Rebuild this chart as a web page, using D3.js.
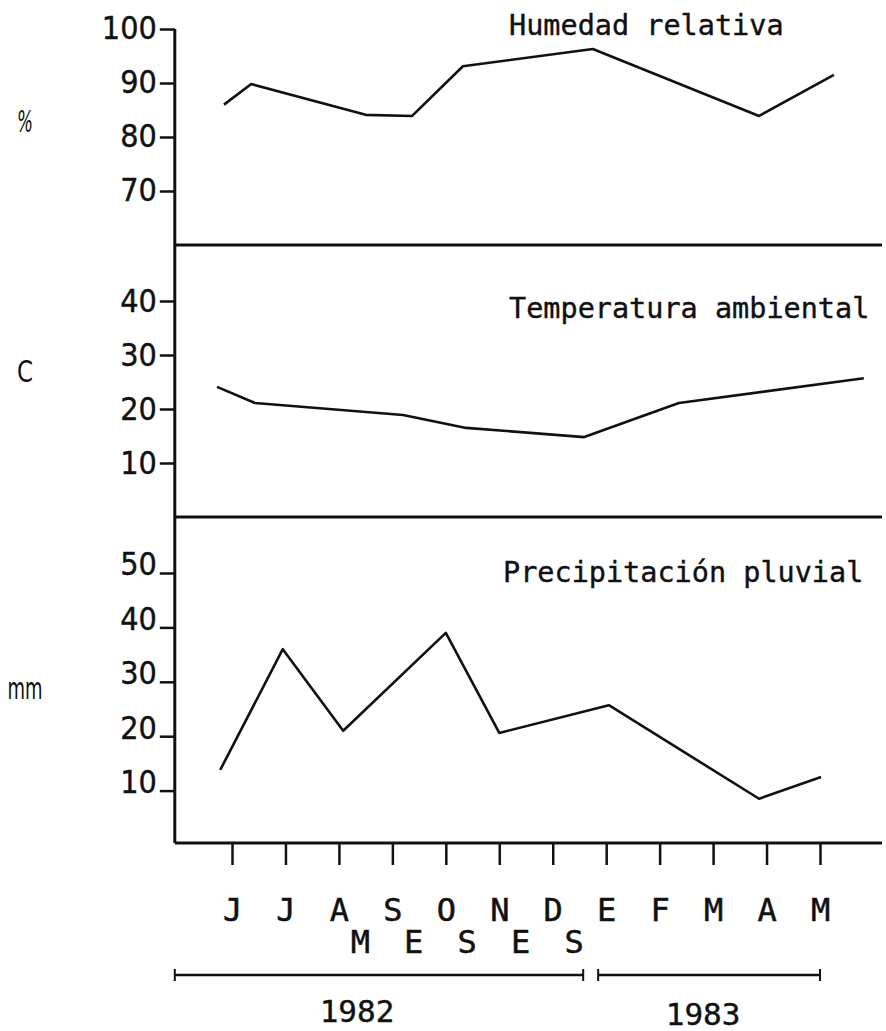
<!DOCTYPE html>
<html>
<head>
<meta charset="utf-8">
<script src="https://cdn.jsdelivr.net/npm/d3@7"></script>
<style>
body { margin: 0; background: #fff; }
.num { font-family: "DejaVu Sans Condensed", "Liberation Sans Narrow", "DejaVu Sans", sans-serif; font-stretch: condensed; }
.mono { font-family: "DejaVu Sans Mono", "Liberation Mono", monospace; }
</style>
</head>
<body>
<svg width="886" height="1031"></svg>
<script>
// months of the sampling period (Jun 1982 - May 1983)
var months = ["J", "J", "A", "S", "O", "N", "D", "E", "F", "M", "A", "M"];

// vertices of each curve: position on the month axis (0 = first J) and value
var humMonth = [-0.15, 0.36, 2.5, 3.37, 4.32, 6.75, 9.86, 11.26];
var humValue = [86, 89.8, 84.1, 83.9, 93.1, 96.3, 83.9, 91.5];

var tempMonth = [-0.28, 0.43, 3.2, 4.38, 6.59, 8.36, 11.82];
var tempValue = [24.1, 21.1, 18.9, 16.5, 14.8, 21.1, 25.7];

var rainMonth = [-0.22, 0.95, 2.08, 4.0, 5.0, 7.05, 9.86, 11.02];
var rainValue = [13.8, 36.0, 21.0, 39.0, 20.6, 25.7, 8.5, 12.5];

var humTicks = [70, 80, 90, 100];
var tempTicks = [10, 20, 30, 40];
var rainTicks = [10, 20, 30, 40, 50];

var years = ["1982", "1983"];
var yearFrom = [-1.07, 6.85];
var yearTo = [6.57, 11];

var svg = d3.select("svg"),
    width = +svg.attr("width"),
    height = +svg.attr("height");

var x = d3.scaleLinear().domain([0, 11]).range([232, 820]);
var axisX = x(-1.07),
    rightX = 882,
    baseY = 843;

var panels = [
    {title: "Humedad relativa", unit: "%", domain: [60, 100], range: [245, 29], base: 245,
     ticks: humTicks, xs: humMonth, ys: humValue, dy: "0.3em", titleX: 509, titleY: 35, unitY: 132, unitW: 16, italic: true},
    {title: "Temperatura ambiental", unit: "C", domain: [0, 50], range: [517, 247], base: 517,
     ticks: tempTicks, xs: tempMonth, ys: tempValue, dy: "0.32em", titleX: 509, titleY: 318, unitY: 382, unitW: 16},
    {title: "Precipitación pluvial", unit: "mm", domain: [0, 50], range: [845, 573], base: baseY,
     ticks: rainTicks, xs: rainMonth, ys: rainValue, dy: "0.06em", titleX: 503, titleY: 582, unitY: 699, unitW: 35}
];

panels.forEach(function (p) {
    var y = d3.scaleLinear().domain(p.domain).range(p.range);

    var g = svg.append("g")
        .attr("transform", "translate(" + axisX + ",0)")
        .call(d3.axisLeft(y).tickValues(p.ticks).tickSize(15).tickPadding(3));
    g.attr("font-size", null).attr("font-family", null);
    g.select(".domain").remove();
    g.selectAll(".tick line")
        .attr("stroke", "#111")
        .attr("stroke-width", 2.5);
    g.selectAll(".tick text")
        .attr("class", "num")
        .attr("font-size", 32)
        .attr("fill", "#111")
        .attr("stroke", "#111")
        .attr("stroke-width", 0.4)
        .attr("dy", p.dy);

    // panel bottom rule
    svg.append("line")
        .attr("x1", axisX)
        .attr("x2", rightX)
        .attr("y1", p.base)
        .attr("y2", p.base)
        .attr("stroke", "#111")
        .attr("stroke-width", 3.2);

    var line = d3.line()
        .x(function (d) { return x(d[0]); })
        .y(function (d) { return y(d[1]); });

    svg.append("path")
        .datum(d3.zip(p.xs, p.ys))
        .attr("d", line)
        .attr("fill", "none")
        .attr("stroke", "#111")
        .attr("stroke-width", 2.6)
        .attr("stroke-linejoin", "round");

    svg.append("text")
        .attr("class", "mono")
        .attr("x", p.titleX)
        .attr("y", p.titleY)
        .attr("font-size", 28.5)
        .attr("fill", "#111")
        .attr("stroke", "#111")
        .attr("stroke-width", 0.4)
        .text(p.title);

    svg.append("text")
        .attr("class", "num")
        .attr("x", 25)
        .attr("y", p.unitY)
        .attr("text-anchor", "middle")
        .attr("font-size", 31)
        .attr("font-style", p.italic ? "italic" : null)
        .attr("textLength", p.unitW)
        .attr("lengthAdjust", "spacingAndGlyphs")
        .attr("fill", "#111")
        .text(p.unit);
});

// vertical axis
svg.append("line")
    .attr("x1", axisX)
    .attr("x2", axisX)
    .attr("y1", 29)
    .attr("y2", baseY)
    .attr("stroke", "#111")
    .attr("stroke-width", 3);

// month axis
var xg = svg.append("g")
    .attr("transform", "translate(0," + baseY + ")")
    .call(d3.axisBottom(x)
        .tickValues(d3.range(months.length))
        .tickSize(22)
        .tickPadding(33)
        .tickFormat(function (d) { return months[d]; }));
xg.attr("font-size", null).attr("font-family", null);
xg.select(".domain").remove();
xg.selectAll(".tick line")
    .attr("stroke", "#111")
    .attr("stroke-width", 2.5);
xg.selectAll(".tick text")
    .attr("class", "mono")
    .attr("font-size", 32)
    .attr("fill", "#111")
    .attr("stroke", "#111")
    .attr("stroke-width", 0.5);

svg.selectAll(".meses")
    .data("MESES".split(""))
    .enter().append("text")
    .attr("class", "mono meses")
    .attr("x", function (d, i) { return x(2.4 + i); })
    .attr("y", 953)
    .attr("text-anchor", "middle")
    .attr("font-size", 32)
    .attr("fill", "#111")
    .attr("stroke", "#111")
    .attr("stroke-width", 0.5)
    .text(function (d) { return d; });

// year spans
var yr = svg.selectAll(".year")
    .data(years)
    .enter().append("g")
    .attr("class", "year");

yr.append("line")
    .attr("x1", function (d, i) { return x(yearFrom[i]); })
    .attr("x2", function (d, i) { return x(yearTo[i]); })
    .attr("y1", 975)
    .attr("y2", 975)
    .attr("stroke", "#111")
    .attr("stroke-width", 2.5);

[yearFrom, yearTo].forEach(function (ends) {
    yr.append("line")
        .attr("x1", function (d, i) { return x(ends[i]); })
        .attr("x2", function (d, i) { return x(ends[i]); })
        .attr("y1", 969)
        .attr("y2", 981)
        .attr("stroke", "#111")
        .attr("stroke-width", 2);
});

yr.append("text")
    .attr("class", "mono")
    .attr("x", function (d, i) { return (x(yearFrom[i]) + x(yearTo[i])) / 2 - (i === 0 ? 22 : 6); })
    .attr("y", function (d, i) { return i === 0 ? 1022 : 1025; })
    .attr("text-anchor", "middle")
    .attr("font-size", 31)
    .attr("fill", "#111")
    .attr("stroke", "#111")
    .attr("stroke-width", 0.4)
    .text(function (d) { return d; });
</script>
</body>
</html>
